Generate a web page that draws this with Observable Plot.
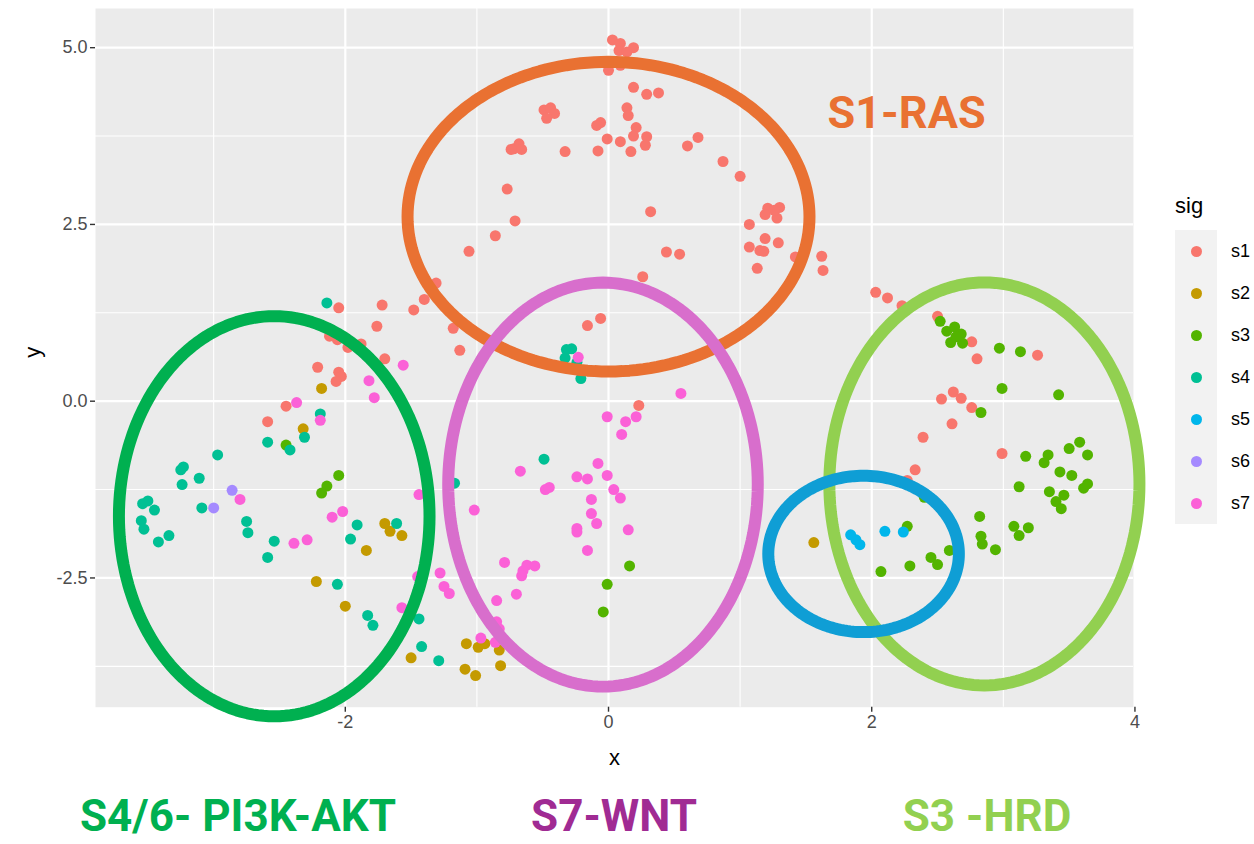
<!DOCTYPE html>
<html>
<head>
<meta charset="utf-8">
<script src="https://cdn.jsdelivr.net/npm/d3@7"></script>
<script src="https://cdn.jsdelivr.net/npm/@observablehq/plot@0.6"></script>
<style>
  body { margin: 0; background: #fff; font-family: "Liberation Sans", Arial, sans-serif; }
  #wrap { position: relative; width: 1254px; height: 844px; overflow: hidden; background: #fff; }
  #plot svg { display: block; }
  .legend-title { position: absolute; left: 1175px; top: 195px; font-size: 22px; line-height: 22px; color: #000; }
  .legend-box { position: absolute; left: 1175px; top: 230px; width: 42px; background: #F2F2F2; }
  .legend-row { position: absolute; left: 1175px; height: 42px; display: flex; align-items: center; }
  .legend-dot { width: 11px; height: 11px; border-radius: 50%; margin-left: 15.5px; }
  .legend-label { position: absolute; left: 56px; font-size: 18px; line-height: 18px; color: #000; top: 12px; }
  .bottom { position: absolute; top: 780px; left: 0; width: 1254px; height: 64px; }
  .blabel { position: absolute; top: 18px; transform: translateX(-50%); font-family: Roboto, "Liberation Sans", sans-serif; font-weight: 700; font-size: 44px; line-height: 36px; white-space: nowrap; }
</style>
</head>
<body>
<div id="wrap">
  <div id="plot"></div>
</div>
<script>
// ---- categories & colours
const sigs = ["s1", "s2", "s3", "s4", "s5", "s6", "s7"];
const sigColors = ["#F8766D", "#C49A00", "#53B400", "#00C094", "#00B6EB", "#A58AFF", "#FB61D7"];

// ---- series values [x, y]
const s1 = [[0.03,5.11],[0.09,5.06],[0.19,5.00],[0.08,4.96],[0.14,4.94],[0.09,4.75],[0.00,4.68],[0.19,4.44],[0.29,4.34],[0.38,4.36],
  [-0.49,4.12],[-0.44,4.15],[-0.41,4.07],[-0.47,4.00],[0.14,4.15],[0.15,4.04],[-0.06,3.94],[-0.09,3.90],[0.21,3.87],[0.19,3.75],
  [0.29,3.74],[0.28,3.62],[-0.01,3.71],[0.09,3.67],[0.17,3.53],[-0.08,3.54],[-0.33,3.53],[-0.72,3.57],[-0.68,3.64],[-0.66,3.56],
  [-0.74,3.56],[0.60,3.61],[0.68,3.73],[0.87,3.39],[1.00,3.18],[-0.77,3.00],[-0.71,2.55],[-0.86,2.34],[-1.06,2.12],[0.32,2.68],
  [1.21,2.73],[1.30,2.74],[1.19,2.64],[1.28,2.59],[1.26,2.70],[1.07,2.50],[1.19,2.30],[1.29,2.24],[1.07,2.18],[1.15,2.13],
  [1.18,2.12],[1.13,1.88],[1.42,2.04],[1.62,2.05],[1.63,1.85],[0.44,2.11],[0.54,2.08],[0.26,1.76],[-1.31,1.67],[-1.40,1.44],
  [-1.48,1.29],[-1.18,1.03],[-1.13,0.72],[-0.16,1.07],[-0.06,1.17],[-1.72,1.36],[-2.05,1.32],[-1.76,1.06],[-2.12,0.92],[-2.06,0.87],
  [-1.98,0.76],[-1.88,0.81],[-1.70,0.60],[-2.21,0.48],[-2.05,0.41],[-2.03,0.35],[-2.07,0.28],[-2.45,-0.07],[-2.59,-0.29],[0.23,-0.06],
  [2.03,1.54],[2.12,1.46],[2.23,1.35],[2.50,1.20],[2.76,0.84],[2.80,0.60],[3.26,0.65],[2.53,0.03],[2.62,0.13],[2.68,0.04],
  [2.76,-0.09],[2.61,-0.32],[2.39,-0.51],[2.99,-0.74],[2.33,-0.97],[2.27,-1.12]];
const s2 = [[-2.18,0.18],[-2.32,-0.39],[-1.84,-2.11],[-1.70,-1.73],[-1.66,-1.84],[-1.57,-1.90],[-2.22,-2.55],[-2.00,-2.90],
  [-1.50,-3.63],[-1.08,-3.43],[-0.99,-3.48],[-0.94,-3.43],[-0.83,-3.52],[-1.09,-3.79],[-1.01,-3.88],[-0.82,-3.74],[1.56,-2.00]];
const s3 = [[-2.45,-0.62],[-2.05,-1.05],[-2.14,-1.20],[-2.18,-1.30],[0.16,-2.33],[-0.01,-2.59],[-0.04,-2.98],
  [2.52,1.13],[2.57,0.99],[2.63,1.05],[2.68,0.95],[2.60,0.83],[2.69,0.82],[2.64,0.91],[2.97,0.75],[3.13,0.70],[2.99,0.18],
  [3.42,0.09],[2.83,-0.16],[3.17,-0.78],[3.34,-0.76],[3.31,-0.87],[3.50,-0.67],[3.58,-0.58],[3.64,-0.76],[3.43,-1.00],[3.52,-1.05],
  [3.12,-1.21],[3.35,-1.28],[3.61,-1.23],[3.64,-1.17],[3.46,-1.33],[3.40,-1.42],[3.44,-1.52],[2.82,-1.63],[3.08,-1.77],[3.19,-1.79],
  [3.12,-1.90],[2.83,-1.91],[2.84,-2.02],[2.94,-2.10],[2.27,-1.77],[2.59,-2.11],[2.45,-2.21],[2.50,-2.31],[2.29,-2.33],[2.07,-2.41],
  [2.40,-1.36]];
const s4 = [[-2.14,1.39],[-2.19,-0.18],[-2.59,-0.58],[-2.42,-0.69],[-2.31,-0.51],[-2.97,-0.76],[-3.23,-0.93],[-3.25,-0.97],
  [-3.24,-1.18],[-3.11,-1.09],[-3.09,-1.51],[-3.54,-1.45],[-3.50,-1.41],[-3.45,-1.54],[-3.55,-1.69],[-3.53,-1.81],[-3.42,-1.99],
  [-3.34,-1.90],[-2.75,-1.70],[-2.74,-1.86],[-2.54,-1.98],[-2.59,-2.21],[-1.91,-1.75],[-1.96,-1.95],[-1.61,-1.73],[-2.06,-2.59],
  [-1.83,-3.03],[-1.79,-3.17],[-1.44,-3.08],[-1.42,-3.47],[-1.29,-3.67],[-0.32,0.73],[-0.28,0.74],[-0.33,0.61],[-0.24,0.55],
  [-0.21,0.32],[-0.49,-0.82],[-1.17,-1.16]];
const s5 = [[1.84,-1.89],[1.88,-1.96],[1.91,-2.03],[2.10,-1.84],[2.24,-1.85]];
const s6 = [[-2.86,-1.26],[-3.00,-1.51]];
const s7 = [[-1.56,0.51],[-1.82,0.29],[-1.78,0.05],[-2.37,-0.02],[-2.19,-0.27],[-2.80,-1.39],[-2.39,-2.01],[-2.29,-1.96],
  [-2.10,-1.64],[-2.02,-1.56],[-1.44,-1.32],[-1.57,-2.92],[-1.45,-2.48],[-1.28,-2.43],[-1.25,-2.62],[-1.21,-2.72],[-0.23,0.62],
  [0.55,0.11],[-0.01,-0.22],[0.13,-0.29],[0.21,-0.22],[0.10,-0.47],[-0.67,-0.99],[-0.08,-0.88],[-0.24,-1.07],[-0.16,-1.10],
  [-0.01,-1.05],[-0.48,-1.25],[-0.45,-1.22],[0.04,-1.25],[0.09,-1.37],[-0.13,-1.39],[-1.02,-1.54],[-0.13,-1.59],[-0.09,-1.73],
  [-0.24,-1.80],[-0.24,-1.85],[0.15,-1.82],[-0.16,-2.11],[-0.79,-2.28],[-0.62,-2.32],[-0.56,-2.33],[-0.65,-2.40],[-0.66,-2.47],
  [-0.70,-2.73],[-0.85,-2.82],[-0.85,-3.12],[-0.83,-3.22],[-0.97,-3.35],[-0.86,-3.41]];

// ---- ticks
const xTicks = [-2, 0, 2, 4];
const xMinor = [-3, -1, 1, 3];
const yTicks = [-2.5, 0, 2.5, 5];
const yMinor = [-3.75, -1.25, 1.25, 3.75];

// ---- annotation ellipses (centre and radii, data units)
const ellipseNames = ["S1-RAS", "S7-WNT", "S4/6", "S3-HRD", "S5"];
const ellipseCX = [0.0, -0.042, -2.54, 2.856, 1.938];
const ellipseCY = [2.61, -1.18, -1.627, -1.17, -2.16];
const ellipseRX = [1.527, 1.176, 1.18, 1.178, 0.724];
const ellipseRY = [2.19, 2.857, 2.83, 2.85, 1.106];
const ellipseColors = ["#E97132", "#D86ECC", "#00B050", "#92D050", "#0F9ED5"];

// ---- text labels
const insideLabel = ["S1-RAS"];
const insideLabelX = [2.265];
const insideLabelY = [4.07];
const insideLabelColor = ["#E97132"];
const bottomLabels = ["S4/6- PI3K-AKT", "S7-WNT", "S3 -HRD"];
const bottomLabelColors = ["#00B050", "#A02B93", "#92D050"];
const bottomLabelCenters = [238, 614, 987];

// ---- build tables
const seriesList = [s1, s2, s3, s4, s5, s6, s7];
const points = sigs.flatMap((s, i) => seriesList[i].map(([x, y]) => ({sig: s, x, y})));
const angles = d3.range(0, 361, 2);
const ellipses = ellipseNames.map((n, i) => angles.map(a => ({
  e: n,
  x: ellipseCX[i] + ellipseRX[i] * Math.cos(a * Math.PI / 180),
  y: ellipseCY[i] + ellipseRY[i] * Math.sin(a * Math.PI / 180)
})));
const inside = insideLabel.map((t, i) => ({t, x: insideLabelX[i], y: insideLabelY[i], c: insideLabelColor[i]}));

const font = "'Liberation Sans', Arial, sans-serif";

const plot = Plot.plot({
  width: 1254,
  height: 780,
  marginLeft: 95,
  marginRight: 121,
  marginTop: 8,
  marginBottom: 73.3,
  x: {domain: [-3.898, 3.989], label: null},
  y: {domain: [-4.328, 5.554], label: null},
  color: {domain: sigs, range: sigColors},
  style: {fontFamily: font, fontSize: "18px", background: "transparent", overflow: "visible"},
  marks: [
    Plot.frame({fill: "#EBEBEB", stroke: null}),
    Plot.ruleX(xMinor, {stroke: "#ffffff", strokeWidth: 1.1}),
    Plot.ruleY(yMinor, {stroke: "#ffffff", strokeWidth: 1.1}),
    Plot.ruleX(xTicks, {stroke: "#ffffff", strokeWidth: 2.2}),
    Plot.ruleY(yTicks, {stroke: "#ffffff", strokeWidth: 2.2}),
    Plot.axisX(xTicks, {tickSize: 5, tickPadding: 3, tickFormat: d => String(d), fill: "#4D4D4D", stroke: "#333333", strokeWidth: 1.4, fontSize: 18, label: null}),
    Plot.axisY(yTicks, {tickSize: 5, tickPadding: 3, tickFormat: d => d.toFixed(1), fill: "#4D4D4D", stroke: "#333333", strokeWidth: 1.4, fontSize: 18, label: null}),
    Plot.text(["x"], {frameAnchor: "bottom", dy: 58, fontSize: 22, fill: "#000"}),
    Plot.text(["y"], {frameAnchor: "left", dx: -63, rotate: -90, fontSize: 22, fill: "#000"}),
    Plot.dot(points, {x: "x", y: "y", fill: "sig", r: 5.5, stroke: null}),
    ...ellipses.map((pts, i) => Plot.line(pts, {x: "x", y: "y", stroke: ellipseColors[i], strokeWidth: 12, curve: "linear"})),
    Plot.text(inside, {x: "x", y: "y", text: "t", fill: "c", fontSize: 45, fontWeight: "bold", fontFamily: "Roboto, 'Liberation Sans', sans-serif", textAnchor: "middle", lineAnchor: "middle"})
  ]
});
document.getElementById("plot").appendChild(plot);

// ---- legend (ggplot-style, vertical)
const wrap = document.getElementById("wrap");
const title = document.createElement("div");
title.className = "legend-title";
title.textContent = "sig";
wrap.appendChild(title);
const box = document.createElement("div");
box.className = "legend-box";
box.style.height = (42 * sigs.length) + "px";
wrap.appendChild(box);
sigs.forEach((s, i) => {
  const row = document.createElement("div");
  row.className = "legend-row";
  row.style.top = (230 + 42 * i) + "px";
  const dot = document.createElement("div");
  dot.className = "legend-dot";
  dot.style.background = sigColors[i];
  const lab = document.createElement("div");
  lab.className = "legend-label";
  lab.textContent = s;
  row.appendChild(dot);
  row.appendChild(lab);
  wrap.appendChild(row);
});

// ---- bottom labels
const bottom = document.createElement("div");
bottom.className = "bottom";
bottomLabels.forEach((t, i) => {
  const d = document.createElement("div");
  d.className = "blabel";
  d.style.left = bottomLabelCenters[i] + "px";
  d.style.color = bottomLabelColors[i];
  d.textContent = t;
  bottom.appendChild(d);
});
wrap.appendChild(bottom);
</script>
</body>
</html>
